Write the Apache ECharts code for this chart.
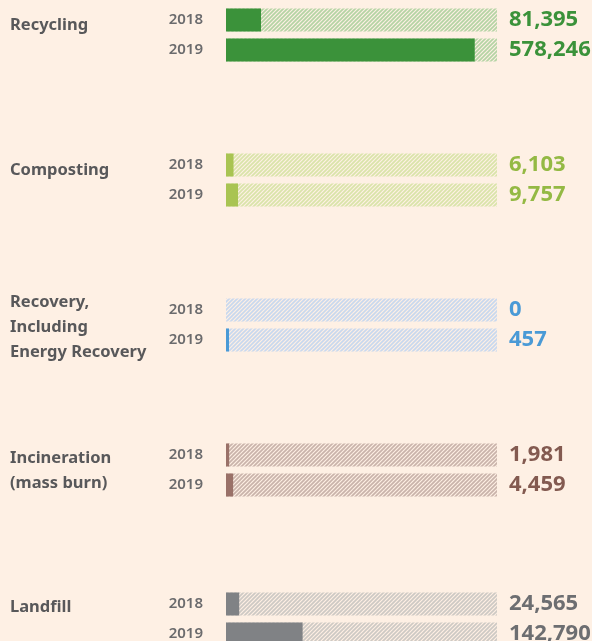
<!DOCTYPE html>
<html>
<head>
<meta charset="utf-8">
<script src="https://cdn.jsdelivr.net/npm/echarts@6/dist/echarts.min.js"></script>
<style>
  html, body { margin: 0; padding: 0; background: #fef0e4; }
  #chart { width: 592px; height: 641px; }
</style>
</head>
<body>
<div id="chart"></div>
<script>
// Waste treatment volumes by method, 2018 vs 2019
const years = ['2018', '2019'];
const methods = ['Recycling', 'Composting', 'Recovery,\nIncluding\nEnergy Recovery', 'Incineration\n(mass burn)', 'Landfill'];
const values2018 = [81395, 6103, 0, 1981, 24565];
const values2019 = [578246, 9757, 457, 4459, 142790];

// Per-panel scale maxima, bar colours, hatch colours and value text colours
const scaleMax = [630000, 220000, 41000, 170000, 505000];
const solid = ['#3b923a', '#a9c452', '#4a9ad6', '#9a7168', '#808285'];
const hatch = ['#b4d4a4', '#d9e4a9', '#c8d8ee', '#c9b3aa', '#cdc9c4'];
const valueColor = ['#3b923a', '#94b944', '#4a9ad6', '#835a50', '#6d6e71'];

const panelTop = [5, 150, 295, 440, 589];
const labelY = [25, 170, 327, 471, 607];

function stripes(color) {
  const c = document.createElement('canvas');
  c.width = 8; c.height = 8;
  const ctx = c.getContext('2d');
  ctx.strokeStyle = color;
  ctx.lineWidth = 1.7;
  for (let x = -8; x <= 8; x += 4) {
    ctx.beginPath();
    ctx.moveTo(x - 1, 9);
    ctx.lineTo(x + 9, -1);
    ctx.stroke();
  }
  return { image: c, repeat: 'repeat' };
}

const grid = [], xAxis = [], yAxis = [], series = [], graphic = [];
methods.forEach((name, g) => {
  // the last panel runs past the bottom edge, so keep the grid unconstrained
  grid.push({ left: 226, right: 95, top: panelTop[g], height: 60, outerBoundsMode: 'none', containLabel: false });
  xAxis.push({ type: 'value', gridIndex: g, min: 0, max: scaleMax[g], show: false });
  yAxis.push({
    type: 'category', gridIndex: g, data: years, inverse: true,
    axisLine: { show: false }, axisTick: { show: false },
    axisLabel: { margin: 23, fontSize: 15, fontWeight: 600, color: '#6b6b6d', fontFamily: 'Noto Sans' }
  });
  const vals = [values2018[g], values2019[g]];
  // hatched track with the value printed at its right end
  series.push({
    type: 'bar', xAxisIndex: g, yAxisIndex: g, barWidth: 23, barGap: '-100%',
    silent: true, z: 1,
    data: vals.map(() => scaleMax[g]),
    itemStyle: { color: stripes(hatch[g]) },
    label: {
      show: true, position: 'right', distance: 12,
      formatter: p => vals[p.dataIndex].toLocaleString('en-US'),
      fontSize: 22, fontWeight: 'bold', color: valueColor[g], fontFamily: 'Noto Sans'
    }
  });
  // solid value bar
  series.push({
    type: 'bar', xAxisIndex: g, yAxisIndex: g, barWidth: 23, barGap: '-100%',
    z: 2, data: vals, itemStyle: { color: solid[g] }
  });
  graphic.push({
    type: 'text', x: 10, y: labelY[g],
    style: {
      text: name, fill: '#58585a', fontSize: 16.5, fontWeight: 'bold',
      fontFamily: 'Noto Sans', lineHeight: 25, verticalAlign: 'middle'
    }
  });
});

const chart = echarts.init(document.getElementById('chart'));
chart.setOption({
  backgroundColor: '#fef0e4',
  animation: false,
  grid, xAxis, yAxis, series, graphic
});
</script>
</body>
</html>
